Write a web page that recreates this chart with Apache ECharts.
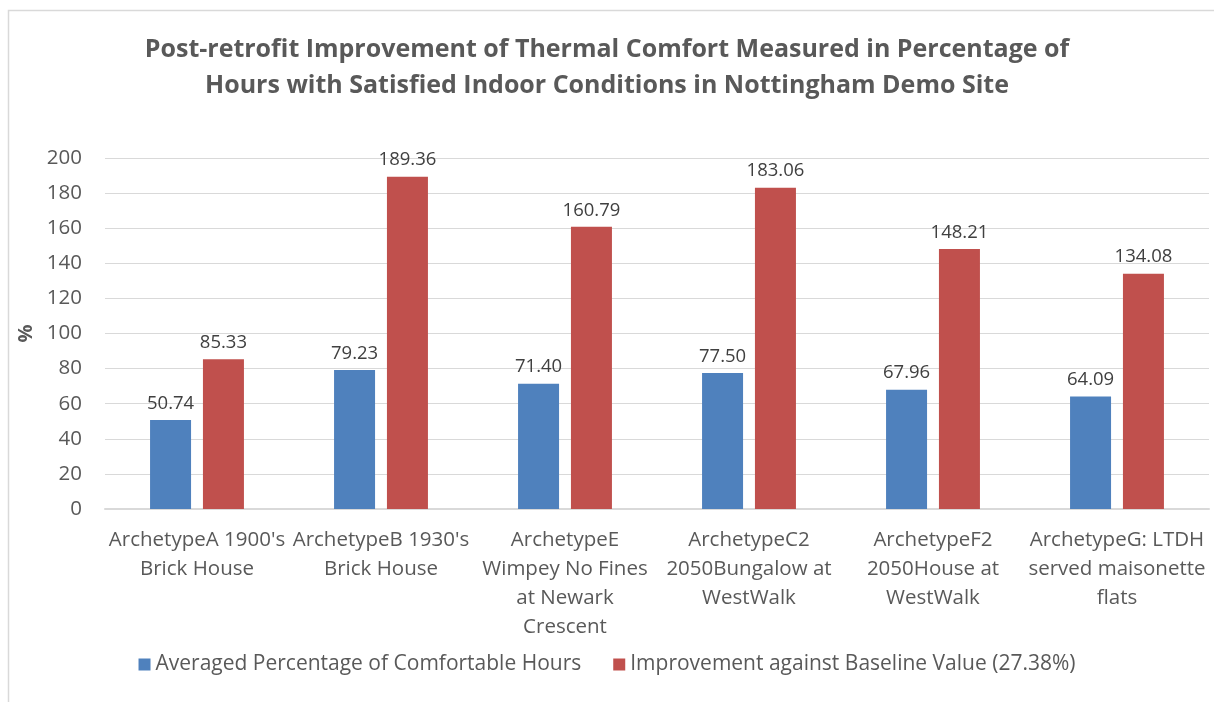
<!DOCTYPE html>
<html>
<head>
<meta charset="utf-8">
<script src="https://cdn.jsdelivr.net/npm/echarts@6/dist/echarts.min.js"></script>
<style>
  html, body { margin: 0; padding: 0; background: #fff; }
  #chart { width: 1214px; height: 702px; }
</style>
</head>
<body>
<div id="chart"></div>
<script>
// chart data
const categories = [
  "ArchetypeA 1900's\nBrick House",
  "ArchetypeB 1930's\nBrick House",
  "ArchetypeE\nWimpey No Fines\nat Newark\nCrescent",
  "ArchetypeC2\n2050Bungalow at\nWestWalk",
  "ArchetypeF2\n2050House at\nWestWalk",
  "ArchetypeG: LTDH\nserved maisonette\nflats"
];
const comfortHours = [50.74, 79.23, 71.40, 77.50, 67.96, 64.09];
const improvement = [85.33, 189.36, 160.79, 183.06, 148.21, 134.08];
const seriesNames = [
  "Averaged Percentage of Comfortable Hours",
  "Improvement against Baseline Value (27.38%)"
];

const font = "'Open Sans', 'Noto Sans', sans-serif";
const chart = echarts.init(document.getElementById("chart"));

const labelStyle = {
  show: true,
  position: "top",
  distance: 7,
  fontFamily: font,
  fontSize: 18.5,
  color: "#404040",
  formatter: p => p.value.toFixed(2)
};

const option = {
  animation: false,
  color: ["#4f81bd", "#c0504d"],
  textStyle: { fontFamily: font },
  title: {
    text: "Post-retrofit Improvement of Thermal Comfort Measured in Percentage of\nHours with Satisfied Indoor Conditions in Nottingham Demo Site",
    left: "center",
    top: 27,
    textStyle: {
      fontFamily: font,
      fontSize: 25,
      fontWeight: "bold",
      color: "#595959",
      lineHeight: 36
    }
  },
  graphic: [{
    type: "rect",
    shape: { x: 8.5, y: 10.5, width: 1400, height: 900 },
    style: { fill: "none", stroke: "#d9d9d9", lineWidth: 1.5 },
    silent: true,
    z: -1
  }],
  legend: {
    bottom: 22,
    left: "center",
    itemWidth: 12,
    itemHeight: 12,
    itemGap: 32,
    icon: "rect",
    textStyle: { fontFamily: font, fontSize: 21, color: "#595959" },
    data: seriesNames
  },
  grid: { left: 105, right: 5, top: 158, bottom: 193 },
  xAxis: {
    type: "category",
    data: categories,
    axisTick: { show: false },
    axisLine: { lineStyle: { color: "#d9d9d9", width: 2 } },
    axisLabel: {
      interval: 0,
      fontFamily: font,
      fontSize: 20.5,
      lineHeight: 29,
      color: "#595959",
      margin: 17
    }
  },
  yAxis: {
    type: "value",
    min: 0,
    max: 200,
    interval: 20,
    name: "%",
    nameLocation: "middle",
    nameGap: 66,
    nameRotate: 90,
    nameTextStyle: { fontFamily: font, fontSize: 20, fontWeight: "bold", color: "#595959" },
    axisLine: { show: false },
    axisTick: { show: false },
    splitLine: { lineStyle: { color: "#d9d9d9", width: 1 } },
    axisLabel: { fontFamily: font, fontSize: 20.5, color: "#595959", margin: 23 }
  },
  series: [
    {
      name: seriesNames[0],
      type: "bar",
      data: comfortHours,
      barWidth: 41,
      barGap: "29%",
      label: labelStyle
    },
    {
      name: seriesNames[1],
      type: "bar",
      data: improvement,
      barWidth: 41,
      label: labelStyle
    }
  ]
};

chart.setOption(option);
window.addEventListener("resize", () => chart.resize());
</script>
</body>
</html>
